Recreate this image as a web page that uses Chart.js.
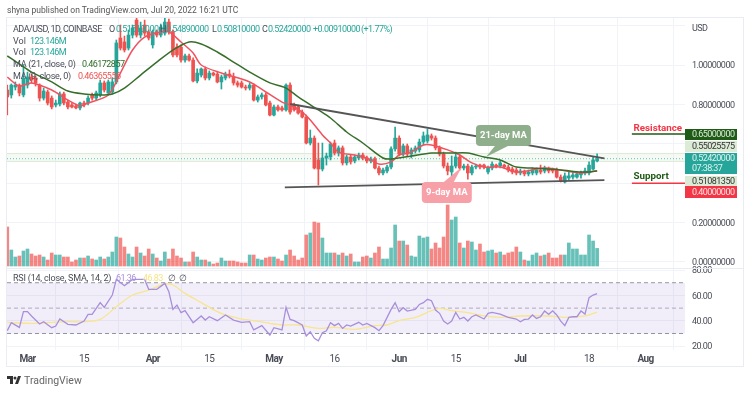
<!DOCTYPE html>
<html>
<head>
<meta charset="utf-8">
<script src="https://cdn.jsdelivr.net/npm/chart.js@4/dist/chart.umd.min.js"></script>
<style>
body { margin: 0; background: #fff; overflow: hidden; }
#wrap { position: relative; width: 750px; height: 393px; font-family: "Roboto", sans-serif; }
canvas { position: absolute; left: 0; top: 0; }
.txt { position: absolute; white-space: pre; font-size: 9px; line-height: 12px; color: #4a4d57; }
.num { font-size: 9px; letter-spacing: -0.55px; }
.up { color: #26a69a; }
</style>
</head>
<body>
<div id="wrap">
    <canvas id="grafico" width="750" height="393"></canvas>
    <div class="txt" style="left:7px;top:4px;font-size:8.5px;color:#555">shyna published on TradingView.com, Jul 20, 2022 16:21 UTC</div>
    <div class="txt" style="left:13px;top:23px;letter-spacing:-0.5px">ADA/USD, 1D, COINBASE</div>
    <div class="txt" style="left:109px;top:23px">O</div><div class="txt num up" style="left:116px;top:23px">0.51510000</div>
    <div class="txt" style="left:160px;top:23px">H</div><div class="txt num up" style="left:166px;top:23px">0.54890000</div>
    <div class="txt" style="left:212px;top:23px">L</div><div class="txt num up" style="left:217px;top:23px">0.50810000</div>
    <div class="txt" style="left:262px;top:23px">C</div><div class="txt num up" style="left:268px;top:23px">0.52420000</div>
    <div class="txt num up" style="left:313px;top:23px">+0.00910000</div>
    <div class="txt num up" style="left:361px;top:23px">(+1.77%)</div>
    <div class="txt" style="left:13px;top:35px">Vol</div><div class="txt num up" style="left:30px;top:35px">123.146M</div>
    <div class="txt" style="left:13px;top:46px">Vol</div><div class="txt num up" style="left:30px;top:46px">123.146M</div>
    <div class="txt" style="left:13px;top:58px;letter-spacing:-0.25px">MA (21, close, 0)</div><div class="txt num" style="left:82px;top:58px;color:#2f6d27">0.46172857</div>
    <div class="txt" style="left:13px;top:70px;letter-spacing:-0.25px">MA (9, close, 0)</div><div class="txt num" style="left:78px;top:70px;color:#ef5350">0.46365556</div>
    <div class="txt" style="left:13px;top:272px;letter-spacing:-0.2px">RSI (14, close, SMA, 14, 2)</div>
    <div class="txt num" style="left:116px;top:272px;color:#a88fdc">61.36</div>
    <div class="txt num" style="left:143px;top:272px;color:#f5e58a">46.83</div>
    <div class="txt num" style="left:168px;top:272px">∅</div>
    <div class="txt num" style="left:179px;top:272px">∅</div>
    <div class="txt num" style="left:692px;top:22px">USD</div>
    <svg style="position:absolute;left:7px;top:376px" width="14" height="9" viewBox="0 0 14 9">
        <path d="M0 0h6v8H3V3H0zM8 8l3-8h3l-3 8z" fill="#333"/><circle cx="8" cy="2" r="1.5" fill="#333"/>
    </svg>
    <div class="txt" style="left:24px;top:375px;font-size:10.5px;color:#666">TradingView</div>
</div>
<script>
// days are counted from 1 Mar 2022, first candle is 24 Feb
const firstDay = -5;
const minDay = -5.07;
const maxDay = 162.75;

const opens = [.873,.848,.888,.898,.848,.898,.939,.934,.898,.832,.863,.832,.797,.802,.853,.812,.797,.792,.782,.807,.807,.848,.832,.848,.909,.858,.863,.914,1.137,1.117,1.086,1.152,1.228,1.152,1.203,1.168,1.102,1.168,1.152,1.162,1.218,1.168,1.091,1.091,1.025,1.046,1.025,.919,.949,.980,.934,.959,.954,.914,.934,.954,.939,.909,.909,.888,.883,.898,.822,.838,.848,.807,.746,.787,.782,.772,.898,.797,.787,.761,.736,.604,.629,.518,.472,.528,.533,.604,.553,.579,.503,.533,.513,.528,.543,.528,.513,.523,.477,.452,.462,.482,.574,.629,.548,.589,.548,.563,.569,.609,.614,.640,.629,.579,.548,.487,.457,.487,.533,.477,.487,.452,.482,.492,.492,.457,.477,.492,.487,.492,.482,.472,.467,.452,.457,.447,.452,.452,.467,.462,.472,.467,.467,.431,.406,.426,.431,.431,.442,.452,.452,.472,.513];
const closes = [.838,.898,.898,.858,.934,.939,.924,.909,.832,.868,.807,.787,.807,.853,.807,.787,.787,.782,.807,.797,.832,.832,.858,.909,.873,.914,.914,1.112,1.086,1.076,1.152,1.188,1.152,1.188,1.162,1.137,1.168,1.152,1.193,1.218,1.168,1.051,1.051,1.025,1.046,1.025,.919,.959,.980,.934,.959,.949,.914,.939,.954,.944,.909,.898,.888,.883,.898,.822,.838,.848,.797,.746,.787,.772,.772,.898,.761,.772,.756,.736,.604,.629,.477,.472,.528,.538,.599,.553,.579,.503,.533,.508,.533,.543,.528,.513,.523,.477,.452,.467,.482,.574,.629,.548,.589,.548,.569,.579,.609,.640,.645,.629,.579,.548,.487,.462,.487,.533,.477,.487,.452,.482,.487,.482,.482,.477,.497,.482,.503,.482,.467,.457,.452,.462,.447,.457,.467,.467,.457,.477,.462,.462,.431,.411,.437,.437,.442,.447,.452,.462,.492,.518,.5242];
const highs = [.898,.904,.914,.904,1.0,.964,.954,.944,.904,.883,.873,.843,.822,.863,.863,.822,.807,.802,.812,.817,.843,.858,.868,.924,.919,.924,.934,1.127,1.203,1.147,1.178,1.203,1.239,1.218,1.228,1.178,1.178,1.178,1.208,1.239,1.233,1.178,1.107,1.102,1.056,1.056,1.036,.980,.985,.990,.970,.964,.964,.949,.964,.975,.959,.919,.919,.898,.909,.904,.848,.858,.858,.817,.797,.797,.792,.904,.909,.807,.797,.772,.746,.670,.640,.604,.604,.553,.609,.619,.589,.589,.543,.543,.543,.553,.553,.538,.533,.533,.487,.477,.492,.584,.685,.640,.599,.599,.579,.589,.624,.660,.675,.650,.640,.589,.558,.503,.538,.558,.543,.497,.497,.492,.497,.497,.497,.487,.508,.497,.513,.497,.492,.482,.477,.472,.467,.467,.477,.477,.492,.487,.482,.477,.477,.442,.452,.457,.457,.457,.462,.477,.508,.533,.5489];
const lows = [.746,.832,.873,.843,.838,.883,.909,.893,.817,.822,.797,.777,.787,.792,.797,.777,.782,.777,.772,.787,.797,.822,.822,.838,.863,.848,.853,.904,1.076,1.066,1.076,1.137,1.142,1.137,1.147,1.127,1.086,1.142,1.142,1.152,1.157,1.041,1.041,1.015,1.015,1.020,.914,.909,.939,.924,.924,.944,.909,.878,.924,.934,.898,.888,.883,.873,.873,.817,.812,.827,.792,.741,.741,.766,.766,.766,.751,.766,.751,.731,.599,.594,.472,.391,.462,.492,.518,.543,.538,.492,.492,.497,.503,.518,.518,.503,.503,.472,.442,.442,.452,.472,.563,.538,.538,.538,.528,.553,.558,.594,.604,.619,.569,.538,.477,.442,.437,.477,.467,.467,.421,.442,.472,.472,.472,.447,.467,.477,.477,.477,.457,.447,.442,.442,.437,.437,.442,.442,.447,.452,.452,.452,.426,.406,.401,.416,.421,.426,.426,.442,.442,.467,.5081];
// volume in millions
const volumes = [273,112,63,70,105,119,84,70,77,63,42,91,77,77,63,63,28,42,56,56,70,49,42,63,49,63,98,203,196,133,84,63,133,91,70,119,84,56,35,98,49,119,70,56,28,28,98,63,42,42,28,14,21,56,35,35,35,28,21,21,77,77,49,42,56,63,63,49,35,77,112,70,42,56,217,231,308,301,196,91,91,91,77,91,70,84,28,28,63,70,56,91,133,49,49,126,287,175,175,147,70,63,210,196,203,119,161,126,203,427,322,343,161,126,175,168,112,154,98,105,112,91,98,77,91,98,133,98,42,35,77,91,70,77,91,56,56,77,77,161,119,119,77,77,217,175,123.146];

const ma21Days = [-5,-2,1,6,10,14,18,21,24,28,32,36,40,43,47,51,55,60,64,67,72,75,79,83,88,90,95,100,105,109,113,117,121,125,132,137,139,141];
const ma21 = [1.046,1.005,.964,.914,.868,.853,.848,.853,.883,.949,1.015,1.076,1.117,1.107,1.066,1.015,.964,.909,.883,.838,.772,.731,.660,.604,.528,.523,.538,.553,.553,.553,.533,.518,.482,.477,.467,.457,.457,.4617];
const ma9Days = [-5,-2,1,6,10,13,15,20,23,26,29,33,35,38,41,43,48,55,59,63,65,68,70,73,75,77,81,84,87,90,92,95,98,100,104,107,110,113,117,121,128,132,137,141];
const ma9 = [.939,.893,.909,.873,.822,.792,.807,.848,.959,1.076,1.142,1.168,1.168,1.117,1.061,1.0,.959,.914,.863,.812,.797,.761,.721,.645,.604,.558,.543,.528,.497,.508,.543,.558,.594,.594,.569,.543,.503,.482,.482,.457,.477,.467,.452,.4637];

const rsiDays = [-5,-4,-2,-1,0,1,3,4,6,7,8,10,12,14,15,16,18,19,21,22,24,26,29,30,32,34,35,36,37,38,39,41,43,44,45,47,49,51,53,55,56,58,60,61,63,64,65,66,68,69,70,71,72,73,74,75,76,77,78,79,80,82,83,84,86,87,88,90,91,92,93,94,96,97,98,99,100,101,102,103,104,105,106,107,108,109,110,111,113,114,115,117,119,121,122,123,124,125,126,127,128,129,130,131,132,133,134,135,136,137,138,139,140,141];
const rsi = [32.2,38.5,34.8,47.2,47.2,43.8,37.5,39.3,34.6,35.9,41.4,37.2,36.7,39.8,45.1,45.1,54.3,50.6,60.3,72.6,67.7,72.6,72.6,64.8,64.8,69.5,62.9,49,52.4,46.4,48,38.5,43.8,40.6,43.2,40.1,44.6,40.6,38.8,39.3,32.8,36.2,28.8,34.6,32.8,50.6,41.1,40.1,36.7,28,31.4,26.2,24.3,30.6,32.2,38.5,36.2,38,34,36.7,35.9,38.8,36.7,38,34.6,32.2,36.2,49,54.3,47.2,50.3,47.7,48.9,52.9,54.3,56.9,55.8,48.5,45.9,39.8,37.5,39.8,46.6,41.4,42.7,39.8,43.2,44.6,41.4,45.9,46.7,45.3,42.7,41.4,39.3,41.1,41.4,44.6,41.9,43.2,47.7,45.1,47.9,44.6,39.8,36.2,42.7,43.2,43.2,47.7,45.3,58.2,60.3,61.36];
const rsiMaDays = [-5,1,10,14,18,22,26,30,34,36,39,43,47,49,53,55,60,63,67,72,76,81,86,89,92,96,100,102,105,109,113,117,122,129,133,138,141];
const rsiMa = [38.8,38,39.3,39.3,41.1,51.1,60.3,64.2,69,68.2,61.6,54.3,47.2,44.6,41.4,40.6,38,36.7,36.7,34,34.9,33.3,36.2,36.7,40.1,42.7,48,49.8,48,46.4,43.8,42.7,43.8,43.8,42.7,43.8,46.83];

const priceTicks = [0, 0.2, 0.4, 0.6, 0.8, 1.0, 1.2];
const priceTicksHidden = [0.4, 0.6, 1.2];
const rsiTicks = [20, 40, 60, 80];
const dateTicks = [0, 14, 31, 45, 61, 76, 92, 106, 122, 139, 153];
const dateLabels = ['Mar', '15', 'Apr', '15', 'May', '16', 'Jun', '15', 'Jul', '18', 'Aug'];
const monthLabels = ['Mar', 'Apr', 'May', 'Jun', 'Jul', 'Aug'];
const rsiLevels = [70, 50, 30];

const highLine = 0.55025575;
const lowLine = 0.5108135;
const lastPrice = 0.5242;
const resistance = 0.65;
const support = 0.40;
const upperTrendDays = [65, 142.8];
const upperTrend = [0.802, 0.526];
const lowerTrendDays = [63.7, 142.8];
const lowerTrend = [0.379, 0.416];
const levelMarkDays = [149.6, 162.75];

const UP = '#26a69a';
const DOWN = '#ef5350';
const candleDays = opens.map((v, i) => firstDay + i);

const toPoints = (xs, ys) => xs.map((x, i) => ({ x: x, y: ys[i] }));
const acrossChart = (y) => toPoints([minDay, maxDay], [y, y]);
const candleColor = (i) => closes[i] >= opens[i] ? UP : DOWN;

const lineSet = (data, color, width, extra) => Object.assign({
    type: 'line', data: data, borderColor: color, borderWidth: width,
    pointRadius: 0, yAxisID: 'y', order: 3, tension: 0
}, extra);

// right side price tags and callouts on the canvas
const tags = [
    { text: '0.65000000', top: 129, h: 11, bg: '#1e5b16', fg: '#dcebd6' },
    { text: '0.55025575', top: 141, h: 11, bg: '#dcebd6', fg: '#333' },
    { text: '0.52420000', sub: '07:38:37', top: 153, h: 21, bg: '#26a69a', fg: '#dff3f0' },
    { text: '0.51081350', top: 176, h: 10, bg: '#dcebd6', fg: '#333' },
    { text: '0.40000000', top: 186, h: 12, bg: '#f23645', fg: '#fde3e5' }
];
const callouts = [
    { text: '21-day MA', day: 111, price: 0.695, w: 55, h: 21, tipDay: 113.5, tipPrice: 0.533, base: 19, baseW: 13, bg: '#8fae8b' },
    { text: '9-day MA', day: 97.6, price: 0.406, w: 50, h: 21, tipDay: 107.5, tipPrice: 0.482, base: 22, baseW: 10, top: true, bg: '#f7a0a8' }
];

const overlay = {
    id: 'overlay',
    beforeDraw(chart) {
        chart.ctx.letterSpacing = '-0.55px';
    },
    afterDatasetsDraw(chart) {
        const ctx = chart.ctx, x = chart.scales.x, y = chart.scales.y;
        ctx.save();
        ctx.letterSpacing = '0px';
        ctx.textBaseline = 'middle';

        callouts.forEach(c => {
            const left = x.getPixelForValue(c.day), top = y.getPixelForValue(c.price);
            ctx.fillStyle = c.bg;
            ctx.beginPath();
            ctx.roundRect(left, top, c.w, c.h, 4);
            ctx.fill();
            const baseY = c.top ? top : top + c.h;
            ctx.beginPath();
            ctx.moveTo(left + c.base, baseY);
            ctx.lineTo(x.getPixelForValue(c.tipDay), y.getPixelForValue(c.tipPrice));
            ctx.lineTo(left + c.base + c.baseW, baseY);
            ctx.closePath();
            ctx.fill();
            ctx.fillStyle = '#fff';
            ctx.font = 'bold 9.5px Roboto';
            ctx.textAlign = 'center';
            ctx.fillText(c.text, left + c.w / 2, top + c.h / 2);
        });

        ctx.textAlign = 'left';
        ctx.font = 'bold 9.8px Roboto';
        ctx.fillStyle = '#f23645';
        ctx.fillText('Resistance', x.getPixelForValue(150), y.getPixelForValue(0.675));
        ctx.fillStyle = '#1e5b16';
        ctx.fillText('Support', x.getPixelForValue(150), y.getPixelForValue(0.432));

        ctx.letterSpacing = '-0.55px';
        ctx.font = '9px Roboto';
        tags.forEach(t => {
            ctx.fillStyle = t.bg;
            ctx.fillRect(x.right, t.top, 52, t.h);
            ctx.fillStyle = t.fg;
            ctx.fillText(t.text, x.right + 7, t.top + (t.sub ? 5.5 : t.h / 2 + 0.5));
            if (t.sub) ctx.fillText(t.sub, x.right + 7, t.top + 16);
        });
        ctx.restore();
    },
    afterDraw(chart) {
        const ctx = chart.ctx, a = chart.chartArea;
        ctx.save();
        ctx.strokeStyle = '#e9ecf3';
        ctx.strokeRect(a.left - 0.5, a.top - 0.5, 744 - a.left, 367 - a.top);
        ctx.beginPath();
        ctx.moveTo(a.left, chart.scales.rsi.top + 0.5);
        ctx.lineTo(744, chart.scales.rsi.top + 0.5);
        ctx.stroke();
        ctx.restore();
    }
};

const grafico = new Chart(document.getElementById('grafico').getContext('2d'), {
    type: 'bar',
    data: {
        datasets: [
            { label: 'Volume', data: toPoints(candleDays, volumes), yAxisID: 'vol', barThickness: 3, grouped: false, order: 9,
              backgroundColor: opens.map((v, i) => closes[i] >= opens[i] ? 'rgba(38,166,154,0.7)' : 'rgba(239,83,80,0.7)') },
            lineSet(acrossChart(highLine), '#dcebd6', 1, { fill: '+1', backgroundColor: 'rgba(220,235,214,0.25)', order: 8 }),
            lineSet(acrossChart(lowLine), '#dcebd6', 1, { order: 8 }),
            lineSet(acrossChart(lastPrice), 'rgba(38,166,154,0.7)', 1, { borderDash: [1, 2], order: 7 }),
            { label: 'Mecha', data: candleDays.map((d, i) => ({ x: d, y: [lows[i], highs[i]] })), yAxisID: 'y', barThickness: 1, grouped: false, order: 6,
              backgroundColor: opens.map((v, i) => candleColor(i)) },
            { label: 'Cuerpo', data: candleDays.map((d, i) => ({ x: d, y: [opens[i], closes[i]] })), yAxisID: 'y', barThickness: 3, grouped: false, order: 5,
              backgroundColor: opens.map((v, i) => candleColor(i)) },
            lineSet(toPoints(ma21Days, ma21), '#376e2b', 1.5, { tension: 0.3 }),
            lineSet(toPoints(ma9Days, ma9), '#f0525f', 1.5, { tension: 0.3 }),
            lineSet(toPoints(upperTrendDays, upperTrend), '#555', 1.8, { order: 2 }),
            lineSet(toPoints(lowerTrendDays, lowerTrend), '#555', 1.8, { order: 2 }),
            lineSet(toPoints(levelMarkDays, [resistance, resistance]), '#1e5b16', 1.5, { order: 2 }),
            lineSet(toPoints(levelMarkDays, [support, support]), '#f23645', 1.5, { order: 2 }),
            lineSet(acrossChart(rsiLevels[0]), '#9598a1', 1, { yAxisID: 'rsi', borderDash: [4, 3], fill: { target: { value: rsiLevels[2] } }, backgroundColor: 'rgba(126,87,194,0.1)', order: 8 }),
            lineSet(acrossChart(rsiLevels[1]), '#b2b5be', 1, { yAxisID: 'rsi', borderDash: [4, 3], order: 8 }),
            lineSet(acrossChart(rsiLevels[2]), '#9598a1', 1, { yAxisID: 'rsi', borderDash: [4, 3], order: 8 }),
            lineSet(toPoints(rsiMaDays, rsiMa), '#f7e58f', 1.3, { yAxisID: 'rsi', tension: 0.3, order: 4 }),
            lineSet(toPoints(rsiDays, rsi), '#a88fdc', 1.3, { yAxisID: 'rsi', order: 3 })
        ]
    },
    options: {
        responsive: false,
        animation: false,
        layout: { padding: { left: 7, top: 18, right: 6, bottom: 26 } },
        plugins: { legend: { display: false }, tooltip: { enabled: false } },
        scales: {
            x: {
                type: 'linear', offset: false, min: minDay, max: maxDay,
                afterFit: (s) => { s.height = 17; },
                afterBuildTicks: (s) => { s.ticks = dateTicks.map(v => ({ value: v })); },
                grid: { color: '#f1f3f8', drawTicks: false },
                border: { display: false },
                ticks: {
                    autoSkip: false, maxRotation: 0, padding: 3, color: '#4a4d57',
                    font: (c) => ({ family: 'Roboto', size: 10, weight: monthLabels.includes(dateLabels[c.index]) ? 'bold' : 'normal' }),
                    callback: (v, i) => dateLabels[i]
                }
            },
            y: {
                position: 'right', stack: 'panes', stackWeight: 250,
                min: -0.0305, max: 1.2386,
                afterFit: (s) => { s.width = 59; },
                afterBuildTicks: (s) => { s.ticks = priceTicks.map(v => ({ value: v })); },
                grid: { color: '#f1f3f8', drawTicks: false },
                border: { display: false },
                ticks: {
                    autoSkip: false, padding: 7, labelOffset: 1, color: '#4a4d57', font: { family: 'Roboto', size: 9 },
                    callback: (v) => priceTicksHidden.includes(v) ? '' : v.toFixed(8)
                }
            },
            rsi: {
                position: 'right', stack: 'panes', stackWeight: 82,
                min: 17, max: 81.6,
                afterFit: (s) => { s.width = 59; },
                afterBuildTicks: (s) => { s.ticks = rsiTicks.map(v => ({ value: v })); },
                grid: { color: '#f1f3f8', drawTicks: false },
                border: { display: false },
                ticks: {
                    autoSkip: false, padding: 7, labelOffset: 1, color: '#4a4d57', font: { family: 'Roboto', size: 9 },
                    callback: (v) => v.toFixed(2)
                }
            },
            vol: { display: false, position: 'left', min: -588, max: 1736 }
        }
    },
    plugins: [overlay]
});
</script>
</body>
</html>
